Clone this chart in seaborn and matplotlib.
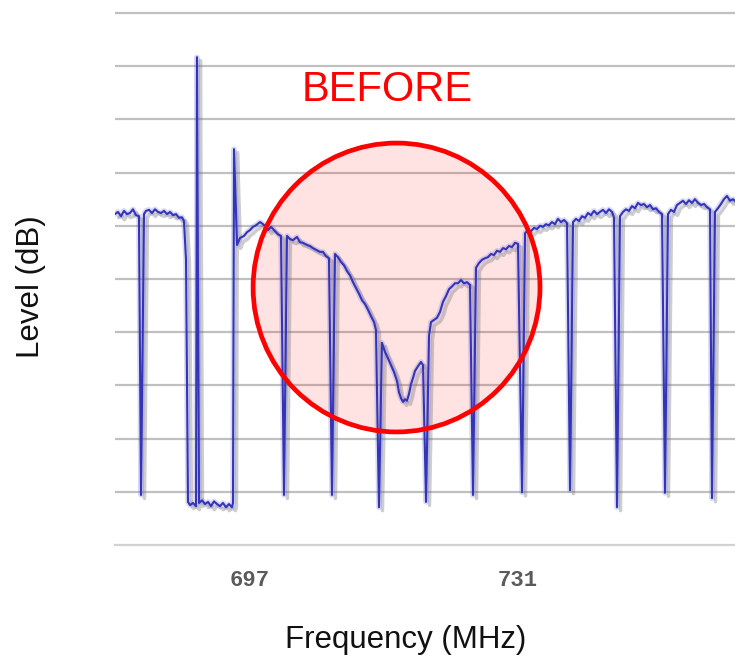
import matplotlib
matplotlib.use("Agg")
import matplotlib.pyplot as plt
import matplotlib.patheffects as pe
from matplotlib.patches import Ellipse
from matplotlib import font_manager
import seaborn as sns
import pandas as pd

# ---- data ----
freq_mhz = [
    679.87, 680.25, 680.63, 681.01, 681.39, 681.77, 682.15, 682.53, 682.91, 683.17,
    683.55, 683.80, 684.18, 684.56, 684.94, 685.33, 685.71, 686.09, 686.47, 686.85,
    687.23, 687.61, 687.99, 688.37, 688.62, 688.88, 689.13, 689.39, 689.77, 690.15,
    690.27, 690.53, 690.91, 691.29, 691.67, 692.05, 692.43, 692.81, 693.19, 693.57,
    693.95, 694.33, 694.71, 694.84, 694.97, 695.35, 695.73,
    696.24, 696.62, 697.00, 697.38, 697.76, 698.27, 698.65, 699.03, 699.28, 699.66,
    700.04, 700.55, 700.93, 701.31, 701.69, 702.07, 702.45, 702.96, 703.34, 703.72,
    704.23, 704.61, 704.99, 705.50, 705.88, 706.26, 706.64, 707.02, 707.40, 707.78,
    708.16, 708.54, 708.92, 709.30, 709.68, 710.06, 710.45, 710.83, 711.21, 711.59,
    711.97, 712.35, 712.73, 712.98, 713.36, 713.74, 714.12, 714.50, 714.89, 715.27,
    715.65, 715.90, 716.15, 716.41, 716.66, 716.91, 717.17, 717.42, 717.68, 717.93,
    718.31, 718.69, 718.95, 719.33, 719.71, 719.96, 720.34, 720.72, 721.10, 721.48,
    721.87, 722.25, 722.63, 723.01, 723.39, 723.77, 724.15, 724.53, 724.91, 725.29,
    725.67, 726.05, 726.43, 726.81, 727.19, 727.57, 727.95, 728.33, 728.72, 729.10,
    729.48, 729.86, 730.24, 730.62, 731.00, 731.51, 731.89, 732.27, 732.65, 733.03,
    733.41, 733.79, 734.17, 734.55, 734.93, 735.31, 735.69, 736.07, 736.46, 736.84,
    737.22, 737.60, 737.98, 738.36, 738.74, 739.12, 739.50, 739.88, 740.26, 740.64,
    741.02, 741.40, 741.78, 742.16, 742.54, 742.93, 743.18, 743.56, 743.94, 744.32,
    744.70, 745.08, 745.46, 745.84, 746.22, 746.60, 746.98, 747.36, 747.75, 748.13,
    748.51, 748.89, 749.27, 749.65, 750.03, 750.41, 750.79, 751.17, 751.55, 751.93,
    752.31, 752.69, 753.07, 753.45, 753.84, 754.22, 754.60, 754.98, 755.36, 755.61,
    755.99, 756.37, 756.75, 757.13, 757.51, 757.89, 758.28, 758.66,
]
level_db = [
    -37.8, -37.4, -38.2, -37.2, -37.8, -37.6, -36.9, -38.0, -38.2, -90.6,
    -37.8, -37.2, -37.0, -37.6, -36.9, -37.4, -37.6, -37.2, -37.8, -37.4,
    -38.0, -37.8, -38.5, -38.4, -39.1, -46.4, -91.9, -92.5, -92.1, -92.7,
    -8.3, -92.1, -91.6, -92.3, -91.9, -92.7, -91.8, -92.3, -92.7, -92.1,
    -92.9, -92.3, -92.9, -92.1, -25.6, -43.6, -42.3,
    -41.9, -41.2, -40.8, -40.2, -39.9, -39.3, -39.7, -40.2, -40.8, -40.2,
    -40.8, -41.6, -41.9, -90.6, -41.9, -42.5, -42.7, -42.1, -43.1, -43.2,
    -43.6, -43.8, -44.2, -44.6, -44.9, -44.9, -45.7, -46.1, -90.6, -45.3,
    -45.9, -46.8, -47.4, -48.5, -49.3, -50.6, -51.7, -52.8, -54.0, -54.7,
    -55.8, -57.0, -58.1, -59.6, -92.9, -62.0, -63.7, -64.9, -66.2, -67.5,
    -69.2, -71.3, -72.4, -73.1, -72.6, -72.9, -71.6, -69.8, -68.6, -67.3,
    -66.4, -65.6, -66.2, -91.9, -60.7, -58.1, -57.7, -57.3, -56.2, -54.3,
    -53.2, -51.9, -51.4, -50.8, -50.8, -50.2, -50.8, -50.6, -51.1, -90.6,
    -47.9, -47.0, -46.4, -46.1, -45.9, -45.3, -45.5, -44.7, -44.9, -44.2,
    -44.4, -43.8, -44.0, -43.2, -43.4, -90.1, -41.4, -40.8, -41.0, -40.4,
    -40.6, -40.0, -40.2, -39.7, -39.9, -39.3, -39.7, -38.7, -39.3, -38.9,
    -39.5, -89.7, -39.3, -38.7, -39.1, -38.2, -38.5, -37.6, -38.0, -37.2,
    -37.8, -37.4, -37.0, -37.6, -36.9, -37.4, -38.5, -92.9, -38.2, -37.4,
    -36.9, -37.2, -36.3, -36.7, -35.7, -36.1, -35.9, -36.5, -36.1, -36.9,
    -36.7, -37.4, -37.8, -90.2, -37.8, -37.0, -37.4, -36.1, -35.7, -35.3,
    -35.9, -35.2, -35.7, -35.0, -35.7, -36.1, -35.9, -36.5, -36.9, -91.2,
    -37.4, -36.7, -35.9, -35.0, -34.4, -35.3, -35.0, -35.5,
]
x_ticks = [697, 731]
x_tick_labels = ["697", "731"]
grid_levels = [-90, -80, -70, -60, -50, -40, -30, -20, -10, 0]
annot_center = (715.59, -51.6)   # MHz, dB
annot_size = (36.4, 54.3)        # MHz, dB
annot_text = "BEFORE"

df = pd.DataFrame({"Frequency (MHz)": freq_mhz, "Level (dB)": level_db})

sns.set_style("white")
plt.rcParams["font.family"] = ["Liberation Sans", "DejaVu Sans"]

fig = plt.figure(figsize=(7.35, 6.63), dpi=100)
ax = fig.add_axes([115 / 735, 1 - 545 / 663, 620 / 735, 545 / 663])

trace_color = "#3434b8"
sns.lineplot(data=df, x="Frequency (MHz)", y="Level (dB)", sort=False,
             estimator=None, ax=ax, color=trace_color, lw=1.5, zorder=3)
line = ax.lines[-1]
line.set_path_effects([
    pe.SimpleLineShadow(offset=(2.5, -2.5), shadow_color="#707070", alpha=0.35, linewidth=2.5),
    pe.Stroke(linewidth=4.0, foreground="#6a6ad8", alpha=0.25),
    pe.Normal(),
])

ax.set_xlim(679.87, 758.53)
ax.set_ylim(-100, 2.44)

# grid
ax.set_yticks(grid_levels)
ax.set_yticklabels([])
ax.tick_params(axis="y", length=0)
ax.yaxis.grid(True, color="#c0c0c0", lw=1.6)
ax.set_axisbelow(True)

for s in ["left", "right", "top"]:
    ax.spines[s].set_visible(False)
ax.spines["bottom"].set_color("#d2d2d2")
ax.spines["bottom"].set_linewidth(1.6)

ax.set_xticks(x_ticks)
ax.set_xticklabels(x_tick_labels, family=["Liberation Mono", "DejaVu Sans Mono"],
                   weight="bold", fontsize=16, color="#5a5a5a")
ax.tick_params(axis="x", length=6, width=1, color="#c8c8c8", pad=12)

ax.set_xlabel("")
ax.set_ylabel("")

# annotation circle
fill = Ellipse(annot_center, annot_size[0], annot_size[1], facecolor=(1, 0, 0, 0.11),
               edgecolor="none", zorder=2)
ax.add_patch(fill)
ring = Ellipse(annot_center, annot_size[0], annot_size[1], facecolor="none",
               edgecolor="#ff0000", lw=3.4, zorder=4)
ax.add_patch(ring)

# annotation text
try:
    font_manager.findfont(font_manager.FontProperties(family="Liberation Sans Narrow"),
                          fallback_to_default=False)
    bfam, bsize = "Liberation Sans Narrow", 35
except Exception:
    bfam, bsize = "Liberation Sans", 30
fig.text(387 / 735, 1 - 90 / 663, annot_text, color="#ff0000", family=bfam,
         fontsize=bsize, ha="center", va="center")

fig.text(406 / 735, 1 - 640 / 663, "Frequency (MHz)", fontsize=22.5, color="#111111",
         ha="center", va="center")
fig.text(31 / 735, 1 - 287 / 663, "Level (dB)", fontsize=22.5, color="#111111",
         ha="center", va="center", rotation=90)

fig.savefig("out.png", dpi=100)
